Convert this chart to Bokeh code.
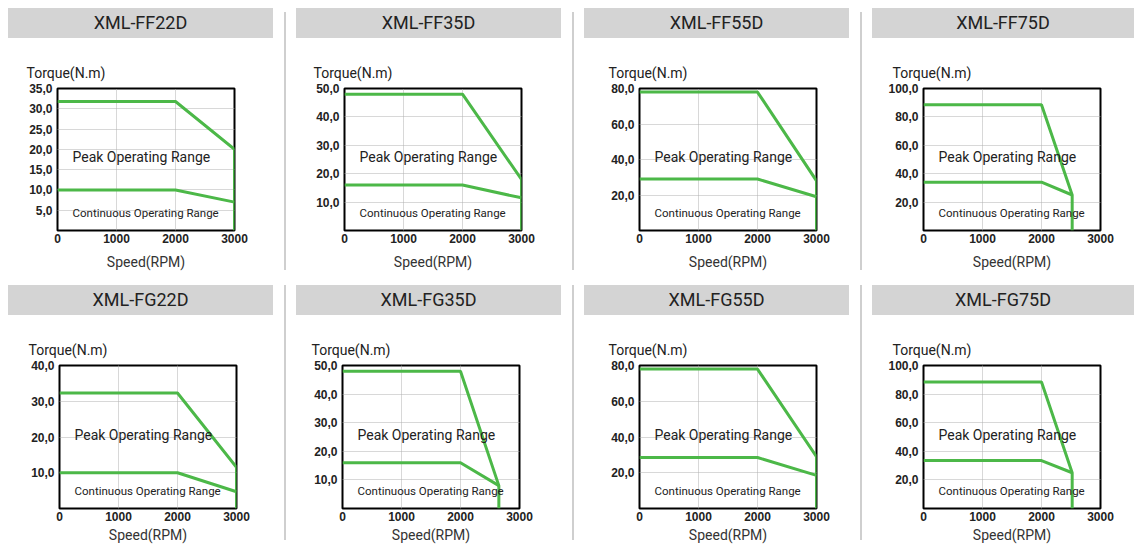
from bokeh.plotting import figure
from bokeh.models import Div, Spacer, Label, FixedTicker, CustomJSTickFormatter, Range1d
from bokeh.layouts import row, column
from bokeh.embed import file_html
from bokeh.resources import INLINE

# ---------------- data ----------------
titles = ["XML-FF22D", "XML-FF35D", "XML-FF55D", "XML-FF75D",
          "XML-FG22D", "XML-FG35D", "XML-FG55D", "XML-FG75D"]
y_max = [35, 50, 80, 100, 40, 50, 80, 100]
y_ticks = [
    [5, 10, 15, 20, 25, 30, 35],
    [10, 20, 30, 40, 50],
    [20, 40, 60, 80],
    [20, 40, 60, 80, 100],
    [10, 20, 30, 40],
    [10, 20, 30, 40, 50],
    [20, 40, 60, 80],
    [20, 40, 60, 80, 100],
]
x_ticks = [0, 1000, 2000, 3000]

peak_speed = [
    [0, 2000, 3000, 3000],
    [0, 2000, 3000, 3000],
    [0, 2000, 3000, 3000],
    [0, 2000, 2520, 2520],
    [0, 2000, 3000, 3000],
    [0, 2000, 2650, 2650],
    [0, 2000, 3000, 3000],
    [0, 2000, 2520, 2520],
]
peak_torque = [
    [31.8, 31.8, 20, 0],
    [48, 48, 18, 0],
    [78, 78, 28, 0],
    [88.5, 88.5, 25, 0],
    [32.3, 32.3, 11.5, 0],
    [48, 48, 8, 0],
    [78, 78, 29, 0],
    [88.5, 88.5, 25, 0],
]
cont_speed = [
    [0, 2000, 3000],
    [0, 2000, 3000],
    [0, 2000, 3000],
    [0, 2000, 2520],
    [0, 2000, 3000],
    [0, 2000, 2650],
    [0, 2000, 3000],
    [0, 2000, 2520],
]
cont_torque = [
    [10, 10, 7],
    [16, 16, 11.5],
    [29, 29, 19],
    [34, 34, 25],
    [10, 10, 4.7],
    [16, 16, 8],
    [28.5, 28.5, 18.5],
    [33.5, 33.5, 25],
]

# ---------------- style ----------------
GREEN = "#4cb848"
FONT = "Liberation Sans"
COND = "Roboto"
TXT = "#222222"
frame_left = [49, 48, 55, 51, 51, 46, 55, 51]
FRAME_W = 177


def make_panel(i, width, fig_h, top, frame_h, lab_so):
    left = frame_left[i]
    p = figure(width=width, height=fig_h,
               x_range=Range1d(0, 3000), y_range=Range1d(0, y_max[i]),
               output_backend="svg", toolbar_location=None,
               min_border_left=left, min_border_right=width - left - FRAME_W,
               min_border_top=top, min_border_bottom=fig_h - top - frame_h)
    p.outline_line_color = "black"
    p.outline_line_width = 2
    p.outline_line_alpha = 1
    p.background_fill_color = "white"
    p.border_fill_color = "white"

    p.title.text = "Torque(N.m)"
    p.title.align = "left"
    p.title.offset = -31
    p.title.standoff = 15
    p.title.text_font = COND
    p.title.text_font_style = "normal"
    p.title.text_font_size = "14px"
    p.title.text_color = TXT

    p.xaxis.ticker = FixedTicker(ticks=x_ticks)
    p.yaxis.ticker = FixedTicker(ticks=y_ticks[i])
    p.yaxis.formatter = CustomJSTickFormatter(code="return tick.toFixed(1).replace('.', ',');")
    for ax in p.axis:
        ax.axis_line_color = None
        ax.major_tick_line_color = None
        ax.minor_tick_line_color = None
        ax.major_tick_out = 0
        ax.major_tick_in = 0
        ax.minor_tick_out = 0
        ax.minor_tick_in = 0
        ax.major_label_text_font = FONT
        ax.major_label_text_font_style = "bold"
        ax.major_label_text_font_size = "12px"
        ax.major_label_text_color = TXT
    p.yaxis.major_label_standoff = 5
    p.xaxis.major_label_standoff = 3
    p.xaxis.axis_label = "Speed(RPM)"
    p.xaxis.axis_label_standoff = lab_so
    p.xaxis.axis_label_text_font = COND
    p.xaxis.axis_label_text_font_style = "normal"
    p.xaxis.axis_label_text_font_size = "14px"
    p.xaxis.axis_label_text_color = "#333333"

    p.grid.grid_line_color = "#b0b0b0"
    p.grid.grid_line_dash = "1 1"
    p.grid.grid_line_width = 1

    p.line(peak_speed[i], peak_torque[i], line_color=GREEN, line_width=3)
    p.line(cont_speed[i], cont_torque[i], line_color=GREEN, line_width=3)

    ym = y_max[i]
    p.add_layout(Label(x=0, y=ym * 0.515, x_offset=15, text="Peak Operating Range",
                       text_font=COND, text_font_size="14px", text_color=TXT,
                       text_align="left", text_baseline="middle"))
    p.add_layout(Label(x=0, y=ym * 0.125, x_offset=15, text="Continuous Operating Range",
                       text_font=COND, text_font_size="11.5px", text_color=TXT,
                       text_align="left", text_baseline="middle"))
    return p


def header(i, width):
    html = ('<div style="width:%dpx;text-align:center;line-height:30px;">%s</div>'
            % (width, titles[i]))
    return Div(text=html, width=width, height=30, margin=0,
               styles={"background-color": "#d4d4d4", "font-family": COND,
                       "font-size": "18px", "color": TXT, "overflow": "hidden"})


def sep(h, top):
    return Div(text="", width=2, height=h, margin=(top, 0, 0, 0),
               styles={"background-color": "#cfcfcf"})


rows = []
for r in range(2):
    kids = []
    for c in range(4):
        i = r * 4 + c
        width = 262 if c == 3 else 265
        if r == 0:
            fig = make_panel(i, width, 247, 50, 142, 8)
        else:
            fig = make_panel(i, width, 230, 50, 143, 3)
        kids.append(column(header(i, width), fig, spacing=0))
        if c < 3:
            kids.append(Spacer(width=11, height=10, margin=0))
            kids.append(sep(258 if r == 0 else 255, 4 if r == 0 else 0))
            kids.append(Spacer(width=10, height=10, margin=0))
    rows.append(row(*kids, spacing=0))

grid = column(*rows, spacing=0)
layout = column(Spacer(height=8, width=10, margin=0),
                row(Spacer(width=8, height=10, margin=0), grid, spacing=0),
                spacing=0)

open("out.html", "w").write(file_html(layout, INLINE))
